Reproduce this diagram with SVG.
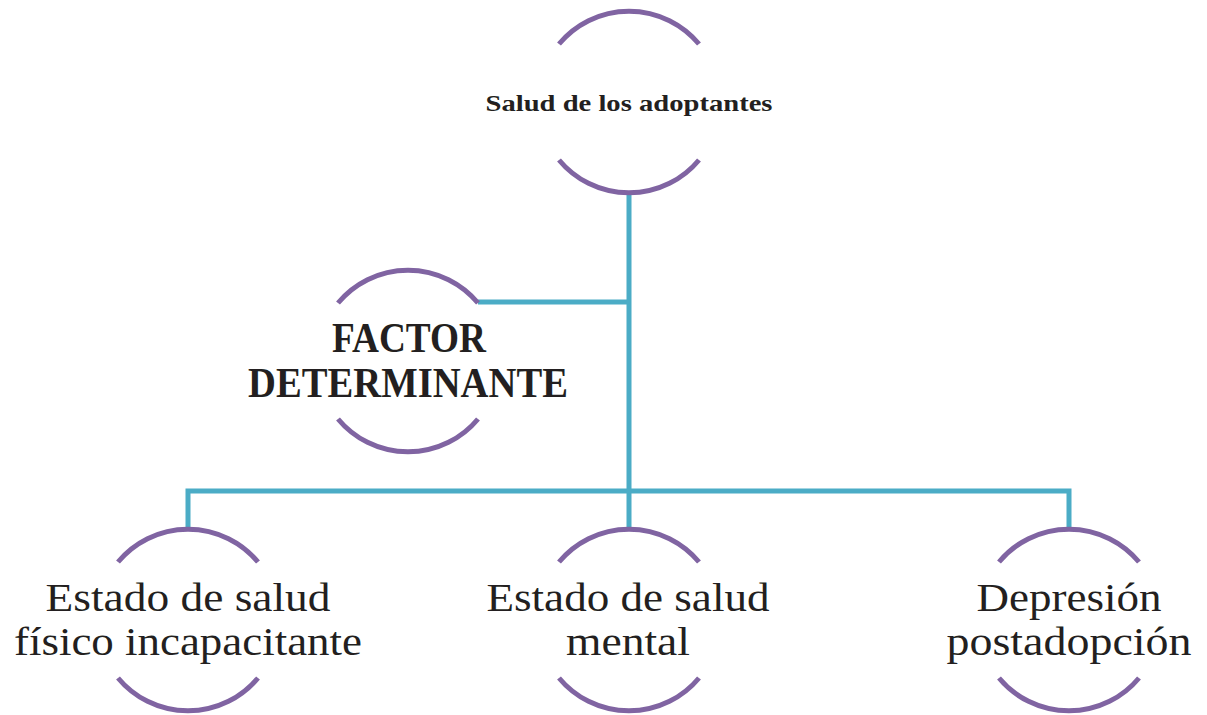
<svg xmlns="http://www.w3.org/2000/svg" width="1207" height="715" viewBox="0 0 1207 715">
<defs>
<style>
.arc{fill:none;stroke:#8064A2;stroke-width:5;}
.conn{fill:none;stroke:#4BACC6;stroke-width:5;stroke-linejoin:miter;}
.t{font-family:"Liberation Serif","DejaVu Serif",serif;fill:#231F20;text-anchor:middle;}
.b{font-weight:bold;}
.big{font-size:40px;}
</style>
<path id="ring" d="M-70 -58 A91 91 0 0 1 70 -58 M-70 58 A91 91 0 0 0 70 58"/>
</defs>
<rect width="1207" height="715" fill="#fff"/>
<g id="connectors">
<path class="conn" d="M629 192 V528"/>
<path class="conn" d="M478 302 H629"/>
<path class="conn" d="M188 529 V491 H1069 V529"/>
</g>
<g id="node-salud">
<use href="#ring" class="arc" transform="translate(629,102)"/>
<text class="t b" x="629" y="111" font-size="23" textLength="287" lengthAdjust="spacingAndGlyphs">Salud de los adoptantes</text>
</g>
<g id="node-factor">
<use href="#ring" class="arc" transform="translate(408,361)"/>
<text class="t b" x="409" y="352" font-size="42" textLength="154" lengthAdjust="spacingAndGlyphs">FACTOR</text>
<text class="t b" x="408" y="397" font-size="42" textLength="320" lengthAdjust="spacingAndGlyphs">DETERMINANTE</text>
</g>
<g id="node-fisico">
<use href="#ring" class="arc" transform="translate(188,620)"/>
<text class="t big" x="188" y="611" textLength="285" lengthAdjust="spacingAndGlyphs">Estado de salud</text>
<text class="t big" x="188" y="655" textLength="348" lengthAdjust="spacingAndGlyphs">físico incapacitante</text>
</g>
<g id="node-mental">
<use href="#ring" class="arc" transform="translate(629,620)"/>
<text class="t big" x="628" y="611" textLength="283" lengthAdjust="spacingAndGlyphs">Estado de salud</text>
<text class="t big" x="628" y="655" textLength="124" lengthAdjust="spacingAndGlyphs">mental</text>
</g>
<g id="node-depresion">
<use href="#ring" class="arc" transform="translate(1069,620)"/>
<text class="t big" x="1069" y="611" textLength="185" lengthAdjust="spacingAndGlyphs">Depresión</text>
<text class="t big" x="1069" y="655" textLength="245" lengthAdjust="spacingAndGlyphs">postadopción</text>
</g>
</svg>
